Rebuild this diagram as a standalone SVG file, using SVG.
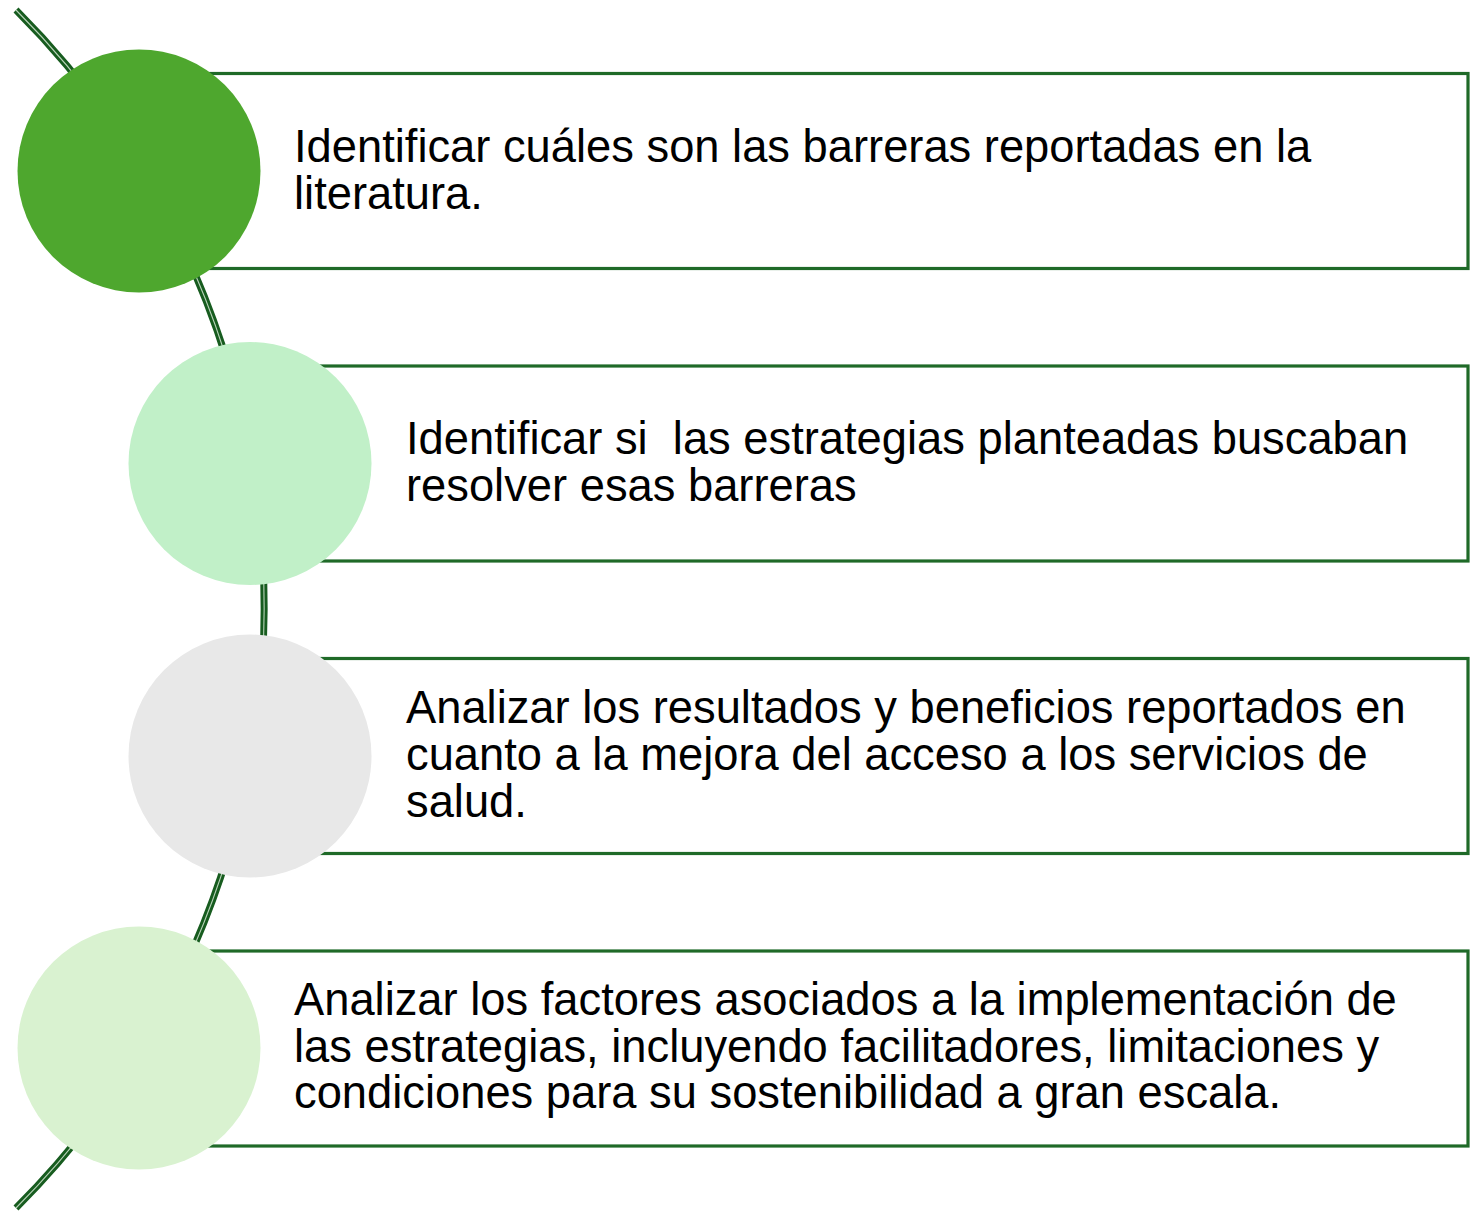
<svg xmlns="http://www.w3.org/2000/svg" width="1478" height="1211" viewBox="0 0 1478 1211">
<style>
.bg{fill:#ffffff}
.box{fill:none;stroke:#1f6a28;stroke-width:3.2}
.spine{fill:none;stroke:#175c1f;stroke-width:7}
.spine-in{fill:none;stroke:#b9d4b9;stroke-width:1.1}
.t{font-family:"Liberation Sans",Arial,sans-serif;font-size:45.3px;fill:#000000;white-space:pre}
</style>
<rect class="bg" x="0" y="0" width="1478" height="1211"/>
<g id="connectors">
<path class="spine" d="M 16 10 A 847 847 0 0 1 16 1208"/>
<path class="spine-in" d="M 16 10 A 847 847 0 0 1 16 1208"/>
</g>
<g id="node1">
<rect class="box" x="139" y="73.5" width="1329" height="195"/>
<circle cx="139" cy="171" r="121.5" fill="#4ea72e"/>
<text class="t" x="294" y="162">Identificar cuáles son las barreras reportadas en la</text>
<text class="t" x="294" y="209">literatura.</text>
</g>
<g id="node2">
<rect class="box" x="250" y="366" width="1218" height="195"/>
<circle cx="250" cy="463.5" r="121.5" fill="#c1f0c8"/>
<text class="t" x="406" y="454">Identificar si  las estrategias planteadas buscaban</text>
<text class="t" x="406" y="501">resolver esas barreras</text>
</g>
<g id="node3">
<rect class="box" x="250" y="658.5" width="1218" height="195"/>
<circle cx="250" cy="756" r="121.5" fill="#e8e8e8"/>
<text class="t" x="406" y="723">Analizar los resultados y beneficios reportados en</text>
<text class="t" x="406" y="770">cuanto a la mejora del acceso a los servicios de</text>
<text class="t" x="406" y="817">salud.</text>
</g>
<g id="node4">
<rect class="box" x="139" y="951" width="1329" height="195"/>
<circle cx="139" cy="1048" r="121.5" fill="#d9f2d0"/>
<text class="t" x="294" y="1015">Analizar los factores asociados a la implementación de</text>
<text class="t" x="294" y="1062">las estrategias, incluyendo facilitadores, limitaciones y</text>
<text class="t" x="294" y="1108">condiciones para su sostenibilidad a gran escala.</text>
</g>
</svg>
